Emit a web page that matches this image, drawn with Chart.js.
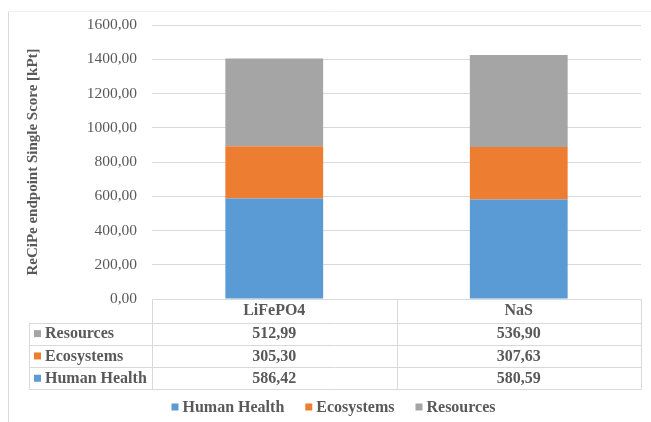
<!DOCTYPE html>
<html lang="en">
  <head>
    <meta charset="utf-8" />
    <title>ReCiPe endpoint Single Score</title>
    <script src="https://cdn.jsdelivr.net/npm/chart.js"></script>
    <style>
      html, body { margin: 0; padding: 0; background: #fff; }
      #wrap { width: 651px; height: 422px; }
    </style>
  </head>
  <body>
    <div id="wrap"><canvas id="myChart" width="651" height="422"></canvas></div>
    <script>
      // data
      const categories = ["LiFePO4", "NaS"];
      const humanHealth = [586.42, 580.59];
      const ecosystems = [305.30, 307.63];
      const resources = [512.99, 536.90];
      const yTicks = [0, 200, 400, 600, 800, 1000, 1200, 1400, 1600];

      const FONT = "'Liberation Serif', 'Times New Roman', serif";
      const TEXT = "#595959";
      const LINE = "#D9D9D9";

      function fmt(v) {
        return v.toFixed(2).replace(".", ",");
      }

      // data table under the plot + legend + frame
      const tablePlugin = {
        id: "dataTable",
        beforeDraw(chart) {
          const c = chart.ctx;
          c.save();
          c.strokeStyle = "#DADADA";
          c.lineWidth = 1;
          c.beginPath();
          c.moveTo(8.5, 422);
          c.lineTo(8.5, 11.5);
          c.stroke();
          c.strokeStyle = "#F0F0F0";
          c.beginPath();
          c.moveTo(8.5, 11.5);
          c.lineTo(651, 11.5);
          c.stroke();
          c.restore();
        },
        afterDraw(chart) {
          const c = chart.ctx;
          const area = chart.chartArea;
          const xs = chart.scales.x;
          const sets = chart.data.datasets.slice().reverse();
          const rowH = 22.3;
          const top = Math.round(area.bottom) + 0.5;
          const headBottom = top + 23;
          const tableLeft = 29.5;
          const left = Math.round(area.left) + 0.5;
          const right = Math.round(area.right) + 0.5;
          const bottom = headBottom + rowH * sets.length;
          const half = (xs.getPixelForValue(1) - xs.getPixelForValue(0)) / 2;

          c.save();
          c.strokeStyle = LINE;
          c.lineWidth = 1;
          c.beginPath();
          c.moveTo(left, top); c.lineTo(right, top);
          for (let r = 0; r <= sets.length; r++) {
            const y = Math.round(headBottom + rowH * r) + 0.5;
            c.moveTo(tableLeft, y); c.lineTo(right, y);
          }
          c.moveTo(tableLeft, headBottom); c.lineTo(tableLeft, Math.round(bottom) + 0.5);
          c.moveTo(left, top); c.lineTo(left, Math.round(bottom) + 0.5);
          categories.forEach((cat, i) => {
            const x = Math.round(xs.getPixelForValue(i) + half) + 0.5;
            c.moveTo(x, top); c.lineTo(x, Math.round(bottom) + 0.5);
          });
          c.stroke();

          c.fillStyle = TEXT;
          c.font = "bold 16px " + FONT;
          c.textBaseline = "middle";
          c.textAlign = "center";
          categories.forEach((cat, i) => {
            c.fillText(cat, xs.getPixelForValue(i), top + 11.5);
          });
          sets.forEach((ds, r) => {
            const yc = headBottom + rowH * r + rowH / 2;
            c.fillStyle = ds.backgroundColor;
            c.fillRect(34, yc - 3.5, 7, 7);
            c.fillStyle = TEXT;
            c.textAlign = "left";
            c.fillText(ds.label, 45, yc + 0.5);
            c.textAlign = "center";
            ds.data.forEach((v, i) => {
              c.fillText(fmt(v), xs.getPixelForValue(i), yc + 0.5);
            });
          });

          // legend
          const legendY = 407;
          const gapBox = 4, gapItem = 21, box = 7;
          const items = chart.data.datasets.map(ds => ({
            label: ds.label, color: ds.backgroundColor, w: c.measureText(ds.label).width
          }));
          let total = 0;
          items.forEach((it, i) => { total += box + gapBox + it.w + (i ? gapItem : 0); });
          let x = 333.5 - total / 2;
          items.forEach(it => {
            c.fillStyle = it.color;
            c.fillRect(x, legendY - 3.5, box, box);
            c.fillStyle = TEXT;
            c.textAlign = "left";
            c.fillText(it.label, x + box + gapBox, legendY + 0.5);
            x += box + gapBox + it.w + gapItem;
          });
          c.restore();
        }
      };

      new Chart(document.getElementById("myChart"), {
        type: "bar",
        data: {
          labels: categories,
          datasets: [
            { label: "Human Health", data: humanHealth, backgroundColor: "#5B9BD5" },
            { label: "Ecosystems", data: ecosystems, backgroundColor: "#ED7D31" },
            { label: "Resources", data: resources, backgroundColor: "#A5A5A5" },
          ],
        },
        options: {
          responsive: false,
          animation: false,
          events: [],
          layout: {
            padding: { top: 25, right: 10, bottom: 34, left: 0 },
          },
          datasets: {
            bar: { categoryPercentage: 1, barPercentage: 0.4 },
          },
          plugins: {
            legend: { display: false },
            tooltip: { enabled: false },
          },
          scales: {
            x: {
              stacked: true,
              grid: { display: false },
              border: { display: false },
              ticks: { display: false },
              afterFit(scale) { scale.height = 89; },
            },
            y: {
              stacked: true,
              min: 0,
              max: 1600,
              afterBuildTicks(scale) {
                scale.ticks = yTicks.map(v => ({ value: v }));
              },
              afterFit(scale) { scale.width = 152; },
              grid: {
                color: (ctx) => (ctx.tick && ctx.tick.value === 0 ? "rgba(0,0,0,0)" : LINE),
                lineWidth: 1,
                drawTicks: false,
              },
              border: { display: false },
              ticks: {
                padding: 15,
                color: TEXT,
                font: { family: FONT, size: 15.5 },
                callback: (v) => fmt(v),
              },
              title: {
                display: true,
                text: "ReCiPe endpoint Single Score [kPt]",
                color: TEXT,
                font: { family: FONT, size: 15, weight: "bold" },
                padding: { top: 24, bottom: 0 },
              },
            },
          },
        },
        plugins: [tablePlugin],
      });
    </script>
  </body>
</html>
